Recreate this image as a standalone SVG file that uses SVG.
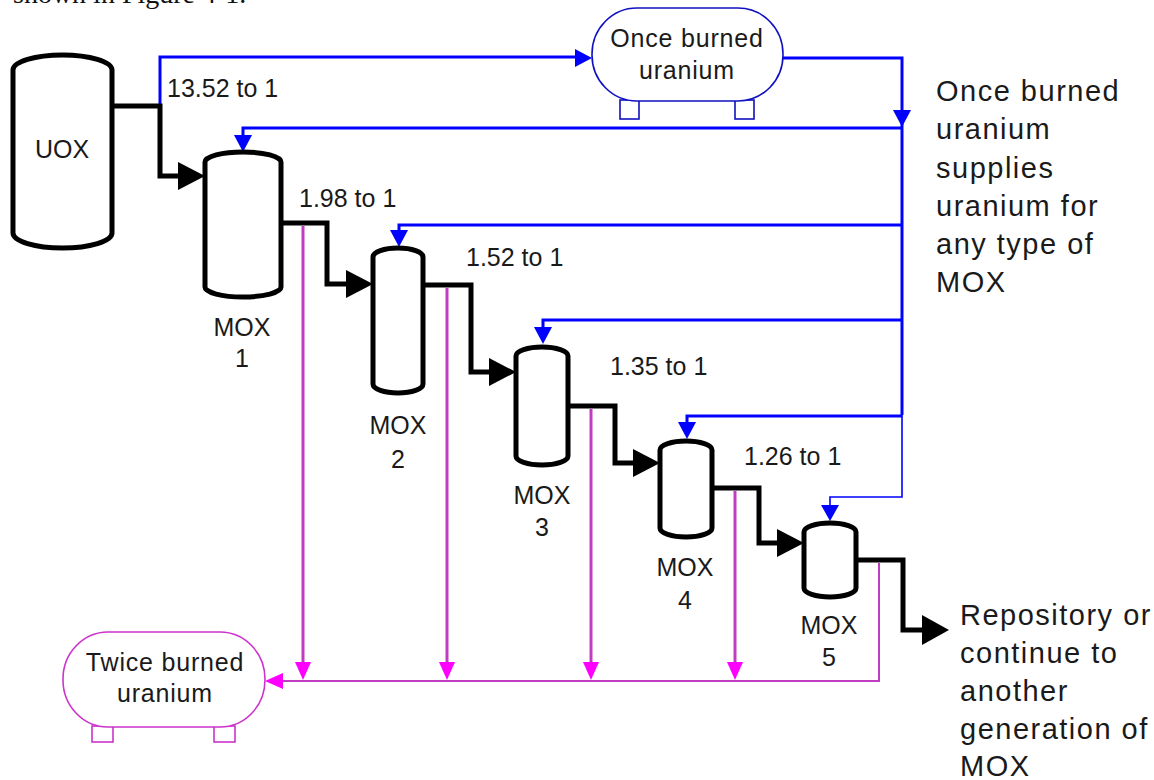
<svg xmlns="http://www.w3.org/2000/svg" width="1154" height="780" viewBox="0 0 1154 780">
<style>
  .lbl { font-family: "Liberation Sans", Arial, sans-serif; font-size: 25px; fill: #1a1a1a; }
  .mid { text-anchor: middle; }
  .big { font-family: "Liberation Sans", Arial, sans-serif; font-size: 29px; letter-spacing: 1.5px; fill: #1a1a1a; }
  .tanklbl { font-family: "Liberation Sans", Arial, sans-serif; font-size: 25px; letter-spacing: 0.8px; fill: #1a1a1a; text-anchor: middle; }
  .vessel { fill: #fff; stroke: #000; stroke-width: 5; stroke-linejoin: round; }
  .flow { fill: none; stroke: #000; stroke-width: 5; stroke-linejoin: miter; }
  .blue { fill: none; stroke: #0000ff; stroke-width: 3; }
  .blueThin { fill: none; stroke: #0000ff; stroke-width: 1.6; }
  .mag { fill: none; stroke: #c03cc0; stroke-width: 3; }
  .magThin { fill: none; stroke: #c03cc0; stroke-width: 2; }
  .ahK { fill: #000; }
  .ahB { fill: #0000ff; }
  .ahM { fill: #ff00ff; }
  .tankB { fill: #fff; stroke: #1010c0; stroke-width: 1.6; }
  .tankM { fill: #fff; stroke: #cc33cc; stroke-width: 1.6; }
</style>

<text x="13" y="3" font-family="'Liberation Serif', 'Times New Roman', serif" font-size="28" fill="#111">shown in Figure 4-1.</text>

<g id="connectors">
  <!-- blue feed lines -->
  <path class="blue" d="M160,106 V57 H576"/>
  <polygon class="ahB" points="592,58 575,49 575,67"/>
  <path class="blue" d="M783,58 H902 V415"/>
  <path class="blueThin" d="M902,415 V497 H830 V507"/>
  <polygon class="ahB" points="902,127 893,110 911,110"/>
  <path class="blue" d="M902,128 H243 V138"/>
  <polygon class="ahB" points="243,152 234,135 252,135"/>
  <path class="blue" d="M902,225 H399 V232"/>
  <polygon class="ahB" points="399,247 390,230 408,230"/>
  <path class="blue" d="M902,320 H543 V329"/>
  <polygon class="ahB" points="543,344 534,327 552,327"/>
  <path class="blue" d="M902,416 H687 V424"/>
  <polygon class="ahB" points="687,439 678,422 696,422"/>
  <polygon class="ahB" points="830,521 821,505 839,505"/>

  <!-- black process flow -->
  <path class="flow" d="M112,106 H160 V176 H180"/>
  <polygon class="ahK" points="205,176 178,162 178,190"/>
  <path class="flow" d="M281,223 H327 V284 H348"/>
  <polygon class="ahK" points="373,284 346,270 346,298"/>
  <path class="flow" d="M423,285 H471 V372 H491"/>
  <polygon class="ahK" points="516,372 489,358 489,386"/>
  <path class="flow" d="M568,406 H615 V463 H635"/>
  <polygon class="ahK" points="660,463 633,449 633,477"/>
  <path class="flow" d="M712,488 H759 V543 H779"/>
  <polygon class="ahK" points="804,543 777,529 777,557"/>
  <path class="flow" d="M856,560 H903 V630 H925"/>
  <polygon class="ahK" points="949,630 922,615 922,645"/>

  <!-- magenta twice-burned lines -->
  <path class="mag" d="M303,226 V664"/>
  <polygon class="ahM" points="303,680 295,662 311,662"/>
  <path class="mag" d="M447,288 V664"/>
  <polygon class="ahM" points="447,680 439,662 455,662"/>
  <path class="mag" d="M591,409 V664"/>
  <polygon class="ahM" points="591,680 583,662 599,662"/>
  <path class="mag" d="M735,491 V664"/>
  <polygon class="ahM" points="735,680 727,662 743,662"/>
  <path class="magThin" d="M879,563 V681 H282"/>
  <polygon class="ahM" points="265,681 283,673 283,689"/>
</g>

<g id="uox">
  <path class="vessel" d="M13,70 A49.5,15 0 0 1 112,70 L112,233 A49.5,15 0 0 1 13,233 Z"/>
  <text class="lbl mid" x="62" y="158">UOX</text>
</g>

<g id="mox1">
  <path class="vessel" d="M205,162 A38,10 0 0 1 281,162 L281,287 A38,10 0 0 1 205,287 Z"/>
  <text class="lbl mid" x="242" y="336">MOX</text>
  <text class="lbl mid" x="242" y="367">1</text>
</g>

<g id="mox2">
  <path class="vessel" d="M373,257 A25,9 0 0 1 423,257 L423,384 A25,9 0 0 1 373,384 Z"/>
  <text class="lbl mid" x="398" y="434">MOX</text>
  <text class="lbl mid" x="398" y="468">2</text>
</g>

<g id="mox3">
  <path class="vessel" d="M516,356 A26,9 0 0 1 568,356 L568,456 A26,9 0 0 1 516,456 Z"/>
  <text class="lbl mid" x="542" y="504">MOX</text>
  <text class="lbl mid" x="542" y="536">3</text>
</g>

<g id="mox4">
  <path class="vessel" d="M660,450 A26,9 0 0 1 712,450 L712,528 A26,9 0 0 1 660,528 Z"/>
  <text class="lbl mid" x="685" y="576">MOX</text>
  <text class="lbl mid" x="685" y="609">4</text>
</g>

<g id="mox5">
  <path class="vessel" d="M804,532 A26,9 0 0 1 856,532 L856,588 A26,9 0 0 1 804,588 Z"/>
  <text class="lbl mid" x="829" y="634">MOX</text>
  <text class="lbl mid" x="829" y="666">5</text>
</g>

<g id="once-burned">
  <rect class="tankB" x="620" y="100" width="19" height="19"/>
  <rect class="tankB" x="735" y="100" width="19" height="19"/>
  <rect class="tankB" x="592" y="8" width="191" height="93" rx="45" ry="46"/>
  <text class="tanklbl" x="687" y="47">Once burned</text>
  <text class="tanklbl" x="687" y="79">uranium</text>
</g>

<g id="twice-burned">
  <rect class="tankM" x="92" y="726" width="21" height="16"/>
  <rect class="tankM" x="214" y="726" width="21" height="16"/>
  <rect class="tankM" x="63" y="632" width="202" height="95" rx="45" ry="47"/>
  <text class="tanklbl" x="165" y="671">Twice burned</text>
  <text class="tanklbl" x="165" y="702">uranium</text>
</g>

<g id="ratios">
  <text class="lbl" x="167" y="97">13.52 to 1</text>
  <text class="lbl" x="299" y="207">1.98 to 1</text>
  <text class="lbl" x="466" y="266">1.52 to 1</text>
  <text class="lbl" x="610" y="375">1.35 to 1</text>
  <text class="lbl" x="744" y="465">1.26 to 1</text>
</g>

<g id="note-once">
  <text class="big" x="936" y="101">Once burned</text>
  <text class="big" x="936" y="139">uranium</text>
  <text class="big" x="936" y="178">supplies</text>
  <text class="big" x="936" y="216">uranium for</text>
  <text class="big" x="936" y="254">any type of</text>
  <text class="big" x="936" y="292">MOX</text>
</g>

<g id="note-repository">
  <text class="big" x="960" y="625">Repository or</text>
  <text class="big" x="960" y="663">continue to</text>
  <text class="big" x="960" y="701">another</text>
  <text class="big" x="960" y="739">generation of</text>
  <text class="big" x="960" y="776">MOX</text>
</g>
</svg>
